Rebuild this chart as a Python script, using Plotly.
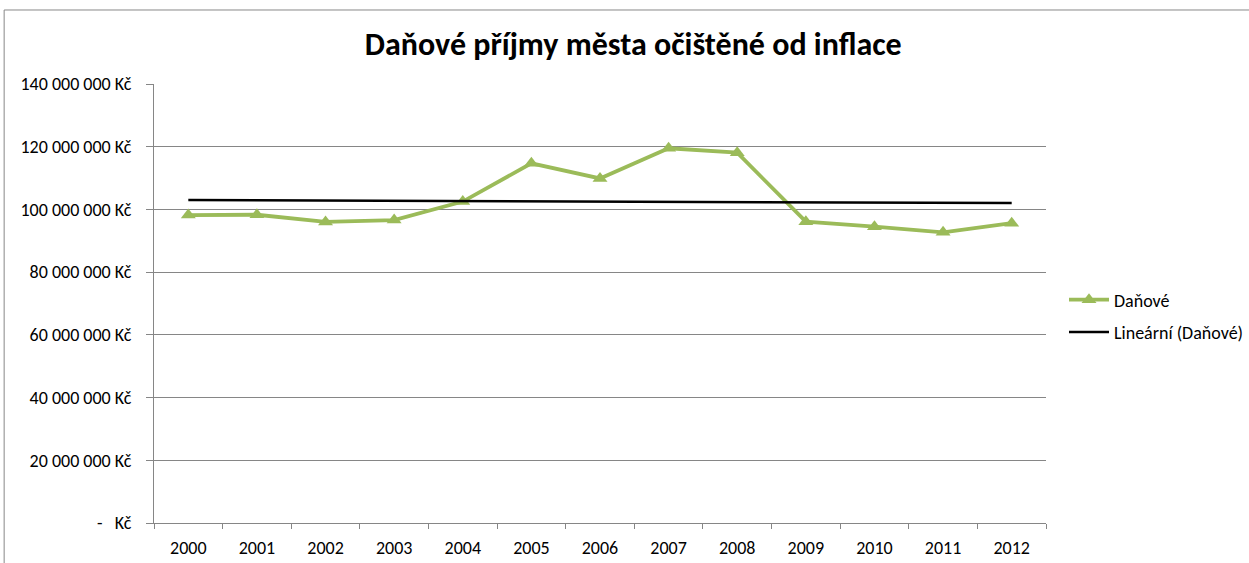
import numpy as np
import plotly.graph_objects as go

years = ["2000", "2001", "2002", "2003", "2004", "2005", "2006",
         "2007", "2008", "2009", "2010", "2011", "2012"]
danove = [98.2e6, 98.3e6, 96.0e6, 96.6e6, 102.5e6, 114.7e6, 109.9e6,
          119.5e6, 118.1e6, 96.1e6, 94.5e6, 92.7e6, 95.6e6]
tick_vals = [0, 20e6, 40e6, 60e6, 80e6, 100e6, 120e6, 140e6]
tick_text = ["-   Kč", "20 000 000 Kč", "40 000 000 Kč", "60 000 000 Kč",
             "80 000 000 Kč", "100 000 000 Kč", "120 000 000 Kč", "140 000 000 Kč"]
title = "Daňové příjmy města očištěné od inflace"

idx = np.arange(len(years))
slope, intercept = np.polyfit(idx, danove, 1)
trend = slope * idx + intercept

FONT = "Carlito, Lato, 'Liberation Sans Narrow', sans-serif"

fig = go.Figure()
fig.add_trace(go.Scatter(
    x=years, y=danove, mode="lines+markers", name="Daňové",
    legendgroup="a",
    line=dict(color="#9BBB59", width=3.8),
    marker=dict(symbol="triangle-up", size=13, color="#9BBB59"),
))
fig.add_trace(go.Scatter(
    x=years, y=trend, mode="lines", name="Lineární (Daňové)",
    legendgroup="b",
    line=dict(color="#000000", width=2.5),
))

fig.update_layout(
    width=1249, height=563,
    margin=dict(l=154, r=203, t=84, b=40, autoexpand=False),
    paper_bgcolor="white", plot_bgcolor="white",
    font=dict(family=FONT, size=18, color="#000000"),
    title=dict(text="<b>" + title + "</b>", x=0.507, xanchor="center",
               y=0.922, yanchor="middle",
               font=dict(family=FONT, size=32, color="#000000")),
    showlegend=True,
    legend=dict(xref="container", yref="container",
                x=1064 / 1249, xanchor="left", y=1 - 316 / 563, yanchor="middle",
                font=dict(family=FONT, size=18), itemwidth=40,
                tracegroupgap=6, bgcolor="rgba(0,0,0,0)"),
    xaxis=dict(type="category", range=[-0.5, len(years) - 0.5],
               showgrid=False, showline=True, automargin=False,
               linecolor="#868686", linewidth=1, ticks="outside",
               tickson="boundaries", ticklen=5, tickcolor="#868686",
               tickfont=dict(family=FONT, size=18), ticklabelstandoff=8),
    yaxis=dict(range=[0, 140e6], tickvals=tick_vals, ticktext=tick_text,
               automargin=False,
               showgrid=True, gridcolor="#868686", gridwidth=1,
               showline=True, linecolor="#868686", linewidth=1,
               ticks="outside", ticklen=7, tickcolor="#868686",
               tickfont=dict(family=FONT, size=18), zeroline=False,
               ticklabelstandoff=11),
    shapes=[
        dict(type="line", xref="paper", yref="paper",
             x0=-0.168, x1=1.3, y0=1.1686, y1=1.1686,
             line=dict(color="#888888", width=1)),
        dict(type="line", xref="paper", yref="paper",
             x0=-0.168, x1=-0.168, y0=-0.2, y1=1.1686,
             line=dict(color="#888888", width=1)),
    ],
)

fig.write_html("out.html", config={"displayModeBar": False},
               post_script="document.body.style.margin='0px';")
